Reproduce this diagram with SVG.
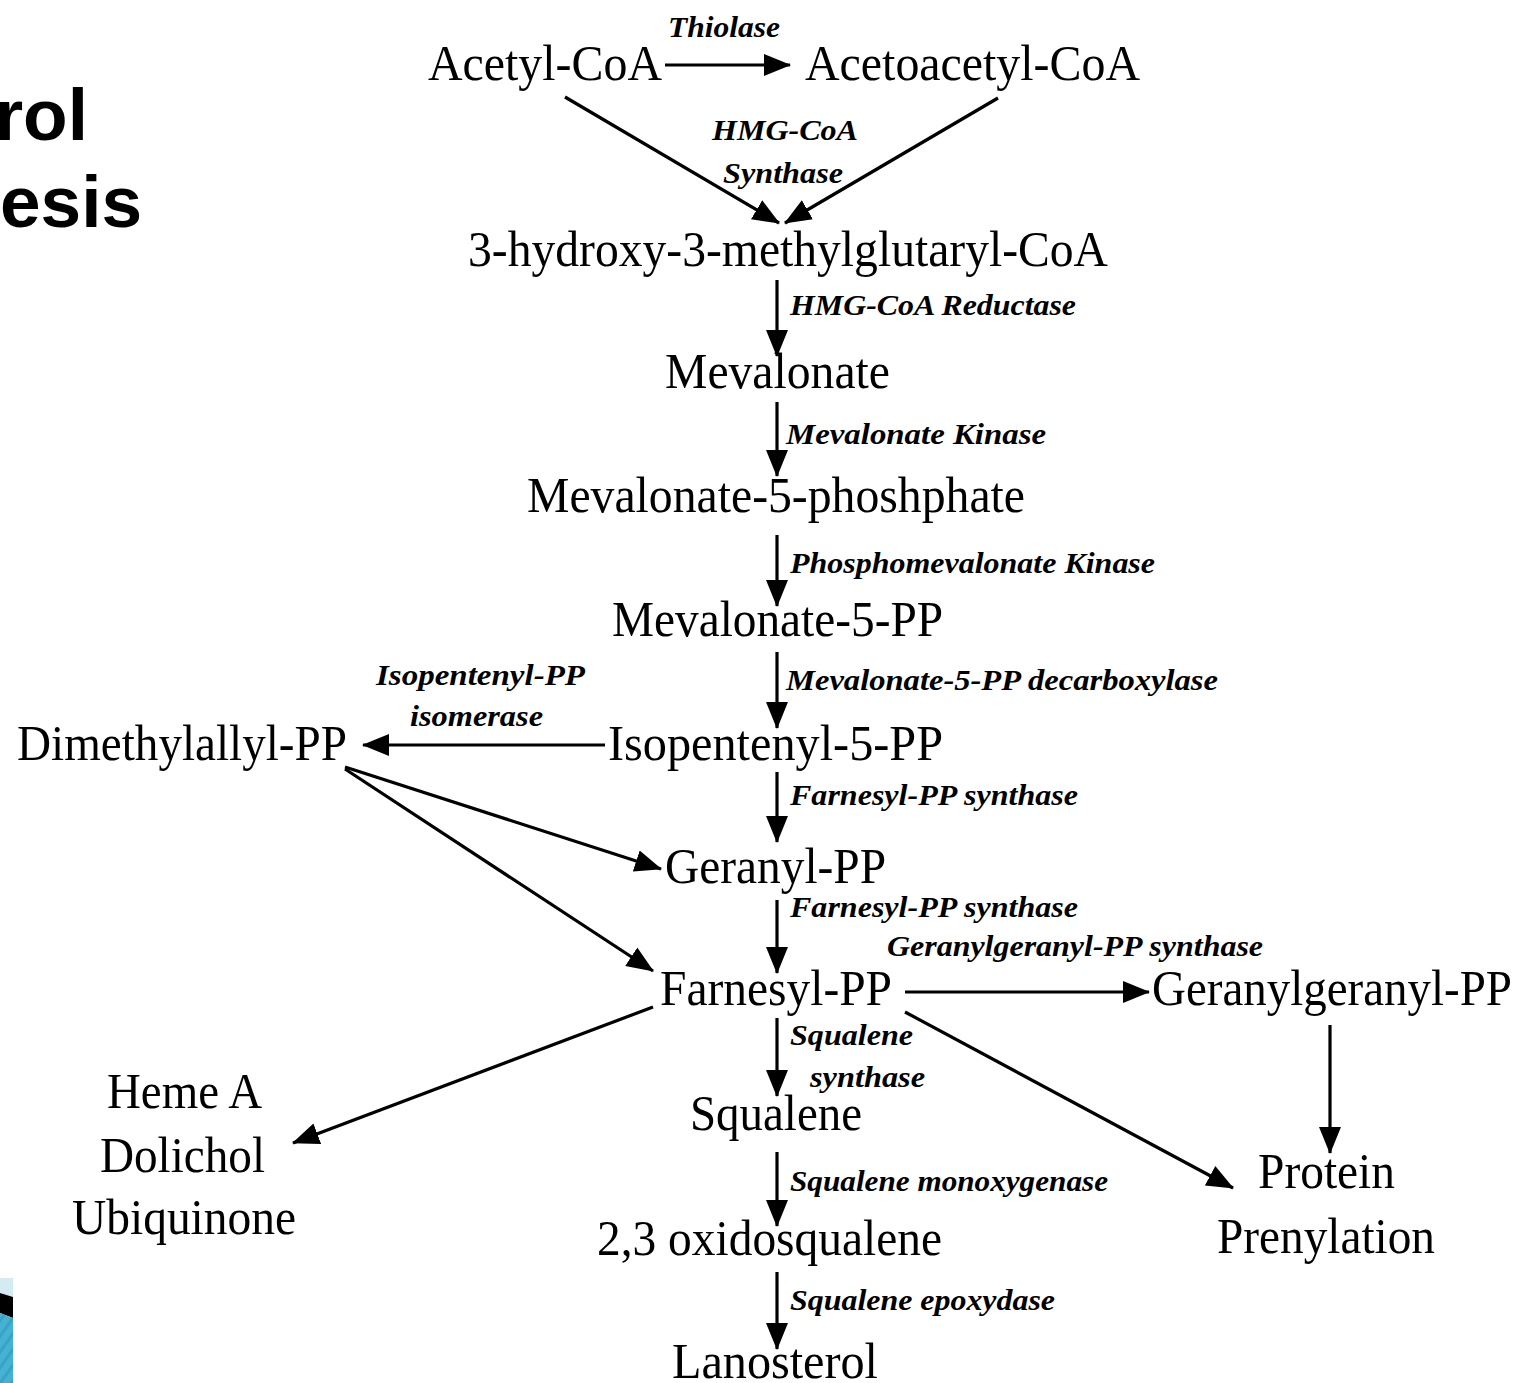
<svg xmlns="http://www.w3.org/2000/svg" width="1520" height="1383" viewBox="0 0 1520 1383">
  <style>
    .node { font-family: "Liberation Serif", "DejaVu Serif", serif; font-size: 50px; fill: #000; }
    .enz { font-family: "Liberation Serif", "DejaVu Serif", serif; font-size: 30px; font-style: italic; font-weight: bold; fill: #000; }
    .title { font-family: "Liberation Sans", Arial, sans-serif; font-size: 73px; font-weight: bold; fill: #000; }
    .conn line { stroke: #000; stroke-width: 3.2; fill: none; marker-end: url(#head); }
  </style>
  <defs>
    <marker id="head" markerUnits="userSpaceOnUse" markerWidth="28" markerHeight="24" viewBox="0 0 28 24" refX="26" refY="12" orient="auto">
      <path d="M0,1 L27,12 L0,23 Z" fill="#000"/>
    </marker>
    <pattern id="stripes" patternUnits="userSpaceOnUse" width="9" height="9" patternTransform="rotate(35)">
      <rect width="9" height="9" fill="#45b1d3"/>
      <rect width="3" height="9" fill="#3aa2c4"/>
    </pattern>
  </defs>
  <rect width="1520" height="1383" fill="#fff"/>

  <!-- slide title, cut at the left edge -->
  <g id="title">
    <text class="title" x="88" y="140" text-anchor="end">rol</text>
    <text class="title" x="0" y="227">esis</text>
  </g>

  <!-- decorative slide corner -->
  <g id="corner">
    <polygon points="0,1278 13,1278 13,1297 0,1293" fill="#d5ebf3"/>
    <polygon points="0,1293 13,1297 13,1318 0,1313" fill="#000"/>
    <polygon points="0,1313 13,1318 13,1383 0,1383" fill="url(#stripes)"/>
  </g>

  <!-- connectors -->
  <g id="connectors" class="conn">
    <line x1="665" y1="65" x2="790" y2="65"/>
    <line x1="565" y1="97" x2="779" y2="223"/>
    <line x1="998" y1="98" x2="785" y2="223"/>
    <line x1="777" y1="280" x2="777" y2="356"/>
    <line x1="777" y1="402" x2="777" y2="476"/>
    <line x1="777" y1="535" x2="777" y2="606"/>
    <line x1="777" y1="652" x2="777" y2="728"/>
    <line x1="605" y1="745" x2="363" y2="745"/>
    <line x1="777" y1="772" x2="777" y2="842"/>
    <line x1="345" y1="767" x2="661" y2="869"/>
    <line x1="345" y1="769" x2="653" y2="971"/>
    <line x1="777" y1="900" x2="777" y2="973"/>
    <line x1="905" y1="992" x2="1149" y2="992"/>
    <line x1="653" y1="1007" x2="293" y2="1143"/>
    <line x1="777" y1="1018" x2="777" y2="1096"/>
    <line x1="905" y1="1012" x2="1233" y2="1188"/>
    <line x1="1330" y1="1025" x2="1330" y2="1153"/>
    <line x1="777" y1="1152" x2="777" y2="1226"/>
    <line x1="777" y1="1272" x2="777" y2="1349"/>
  </g>

  <!-- metabolites -->
  <g id="acetyl-coa"><text class="node" x="428" y="80" textLength="234" lengthAdjust="spacingAndGlyphs">Acetyl-CoA</text></g>
  <g id="acetoacetyl-coa"><text class="node" x="805" y="80" textLength="335" lengthAdjust="spacingAndGlyphs">Acetoacetyl-CoA</text></g>
  <g id="hmg-coa"><text class="node" x="468" y="266" textLength="640" lengthAdjust="spacingAndGlyphs">3-hydroxy-3-methylglutaryl-CoA</text></g>
  <g id="mevalonate"><text class="node" x="665" y="388" textLength="225" lengthAdjust="spacingAndGlyphs">Mevalonate</text></g>
  <g id="mevalonate-5-p"><text class="node" x="527" y="512" textLength="498" lengthAdjust="spacingAndGlyphs">Mevalonate-5-phoshphate</text></g>
  <g id="mevalonate-5-pp"><text class="node" x="612" y="636" textLength="331" lengthAdjust="spacingAndGlyphs">Mevalonate-5-PP</text></g>
  <g id="isopentenyl-5-pp"><text class="node" x="608" y="760" textLength="335" lengthAdjust="spacingAndGlyphs">Isopentenyl-5-PP</text></g>
  <g id="dimethylallyl-pp"><text class="node" x="17" y="760" textLength="330" lengthAdjust="spacingAndGlyphs">Dimethylallyl-PP</text></g>
  <g id="geranyl-pp"><text class="node" x="665" y="883" textLength="221" lengthAdjust="spacingAndGlyphs">Geranyl-PP</text></g>
  <g id="farnesyl-pp"><text class="node" x="660" y="1005" textLength="232" lengthAdjust="spacingAndGlyphs">Farnesyl-PP</text></g>
  <g id="geranylgeranyl-pp"><text class="node" x="1152" y="1005" textLength="360" lengthAdjust="spacingAndGlyphs">Geranylgeranyl-PP</text></g>
  <g id="heme-dolichol-ubiquinone">
    <text class="node" x="107" y="1108" textLength="155" lengthAdjust="spacingAndGlyphs">Heme A</text>
    <text class="node" x="100" y="1172" textLength="165" lengthAdjust="spacingAndGlyphs">Dolichol</text>
    <text class="node" x="72" y="1234" textLength="224" lengthAdjust="spacingAndGlyphs">Ubiquinone</text>
  </g>
  <g id="squalene"><text class="node" x="690" y="1130" textLength="172" lengthAdjust="spacingAndGlyphs">Squalene</text></g>
  <g id="protein-prenylation">
    <text class="node" x="1258" y="1188" textLength="137" lengthAdjust="spacingAndGlyphs">Protein</text>
    <text class="node" x="1217" y="1253" textLength="218" lengthAdjust="spacingAndGlyphs">Prenylation</text>
  </g>
  <g id="oxidosqualene"><text class="node" x="597" y="1255" textLength="345" lengthAdjust="spacingAndGlyphs">2,3 oxidosqualene</text></g>
  <g id="lanosterol"><text class="node" x="672" y="1378" textLength="206" lengthAdjust="spacingAndGlyphs">Lanosterol</text></g>

  <!-- enzymes -->
  <g id="enzymes">
    <text class="enz" x="668" y="37" textLength="112" lengthAdjust="spacingAndGlyphs">Thiolase</text>
    <text class="enz" x="712" y="140" textLength="146" lengthAdjust="spacingAndGlyphs">HMG-CoA</text>
    <text class="enz" x="723" y="183" textLength="120" lengthAdjust="spacingAndGlyphs">Synthase</text>
    <text class="enz" x="790" y="315" textLength="286" lengthAdjust="spacingAndGlyphs">HMG-CoA Reductase</text>
    <text class="enz" x="786" y="444" textLength="260" lengthAdjust="spacingAndGlyphs">Mevalonate Kinase</text>
    <text class="enz" x="790" y="573" textLength="365" lengthAdjust="spacingAndGlyphs">Phosphomevalonate Kinase</text>
    <text class="enz" x="786" y="690" textLength="432" lengthAdjust="spacingAndGlyphs">Mevalonate-5-PP decarboxylase</text>
    <text class="enz" x="376" y="685" textLength="209" lengthAdjust="spacingAndGlyphs">Isopentenyl-PP</text>
    <text class="enz" x="410" y="726" textLength="133" lengthAdjust="spacingAndGlyphs">isomerase</text>
    <text class="enz" x="790" y="805" textLength="288" lengthAdjust="spacingAndGlyphs">Farnesyl-PP synthase</text>
    <text class="enz" x="790" y="917" textLength="288" lengthAdjust="spacingAndGlyphs">Farnesyl-PP synthase</text>
    <text class="enz" x="887" y="956" textLength="376" lengthAdjust="spacingAndGlyphs">Geranylgeranyl-PP synthase</text>
    <text class="enz" x="790" y="1045" textLength="123" lengthAdjust="spacingAndGlyphs">Squalene</text>
    <text class="enz" x="810" y="1087" textLength="115" lengthAdjust="spacingAndGlyphs">synthase</text>
    <text class="enz" x="790" y="1191" textLength="318" lengthAdjust="spacingAndGlyphs">Squalene monoxygenase</text>
    <text class="enz" x="790" y="1310" textLength="265" lengthAdjust="spacingAndGlyphs">Squalene epoxydase</text>
  </g>
</svg>
